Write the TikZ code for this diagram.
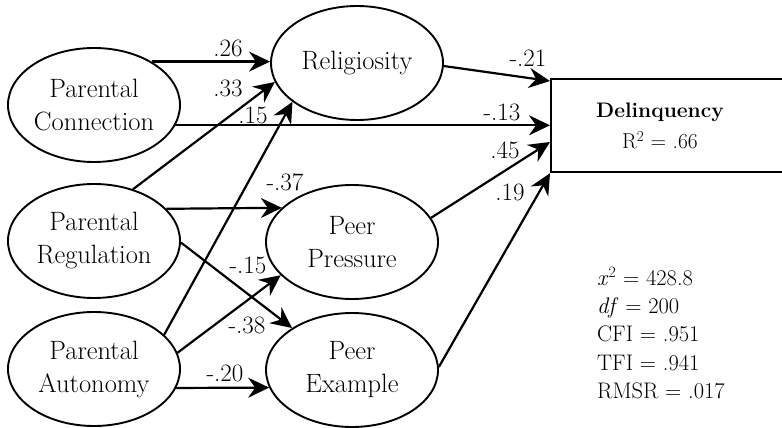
\documentclass[tikz,border=0pt]{standalone}
\usepackage{fontspec}
\usetikzlibrary{arrows.meta,calc,shapes.geometric}
\begin{document}
\begin{tikzpicture}[x=1pt,y=-1pt,
  latent/.style={draw,line width=1.9pt,ellipse,minimum width=172pt,minimum height=114pt,inner sep=0pt,align=center,font=\fontsize{26.5}{33}\selectfont},
  pathline/.style={line width=2.2pt,-{Stealth[length=21pt,width=20pt,inset=7pt]}},
  coef/.style={inner sep=0pt,font=\fontsize{25}{27}\selectfont},
]
\useasboundingbox (0,0) rectangle (782,428);
\clip (0,0) rectangle (782,428);

\node[latent] (pc) at (94,105) {Parental\\Connection};
\node[latent] (pr) at (94,241) {Parental\\Regulation};
\node[latent] (pa) at (94,369) {Parental\\Autonomy};
\node[latent] (rel) at (357,63) {Religiosity};
\node[latent] (pp) at (352,242) {Peer\\Pressure};
\node[latent] (pe) at (352,370) {Peer\\Example};

\node[draw,line width=2.2pt,minimum width=250pt,minimum height=93pt,anchor=north west,inner sep=0pt] (del) at (550,78) {};
\node[font=\fontsize{21}{23}\selectfont\bfseries] (deltitle) at (660,112) {Delinquency};
\node[font=\fontsize{21.5}{23}\selectfont] (delr) at (660,140) {R\textsuperscript{2} = .66};

\node[anchor=west,align=left,inner sep=0pt,font=\fontsize{22.5}{28.3}\selectfont] (fit) at (597,333)
  {\textit{x}\textsuperscript{2} = 428.8\\ \textit{df} = 200\\ CFI = .951\\ TFI = .941\\ RMSR = .017};

\draw[pathline] (pc.37) -- (rel.west |- pc.37);
\draw[pathline] (pc.-14.7) -- (del.west |- pc.-14.7);
\draw[pathline] (pr.53.3) -- (rel.193);
\draw[pathline] (pa.26.2) -- (rel.211.6);
\draw[pathline] (rel.-2) -- ($(del.north west)+(0,3)$);
\draw[pathline] (pp.17.4) -- ($(del.north west)+(0,64)$);
\draw[pathline] (pe.2) -- (del.south west);
\draw[pathline] (pr.24.3) -- (pp.154.4);
\draw[pathline] (pa.11.9) -- (pp.205.9);
\draw[pathline] (pr.-1) -- (pe.145.3);
\draw[pathline] (pa.-13.2) -- (pe.192.6);

\node[coef] (l26) at (228,48) {.26};
\node[coef] (l33) at (228,88) {.33};
\node[coef] (l15a) at (253,115) {.15};
\node[coef] (l37) at (285,182) {-.37};
\node[coef] (l15b) at (248,265) {-.15};
\node[coef] (l38) at (247,325) {-.38};
\node[coef] (l20) at (225,373) {-.20};
\node[coef] (l21) at (528,58) {-.21};
\node[coef] (l13) at (502,112) {-.13};
\node[coef] (l45) at (505,150) {.45};
\node[coef] (l19) at (510,192) {.19};
\end{tikzpicture}
\end{document}
